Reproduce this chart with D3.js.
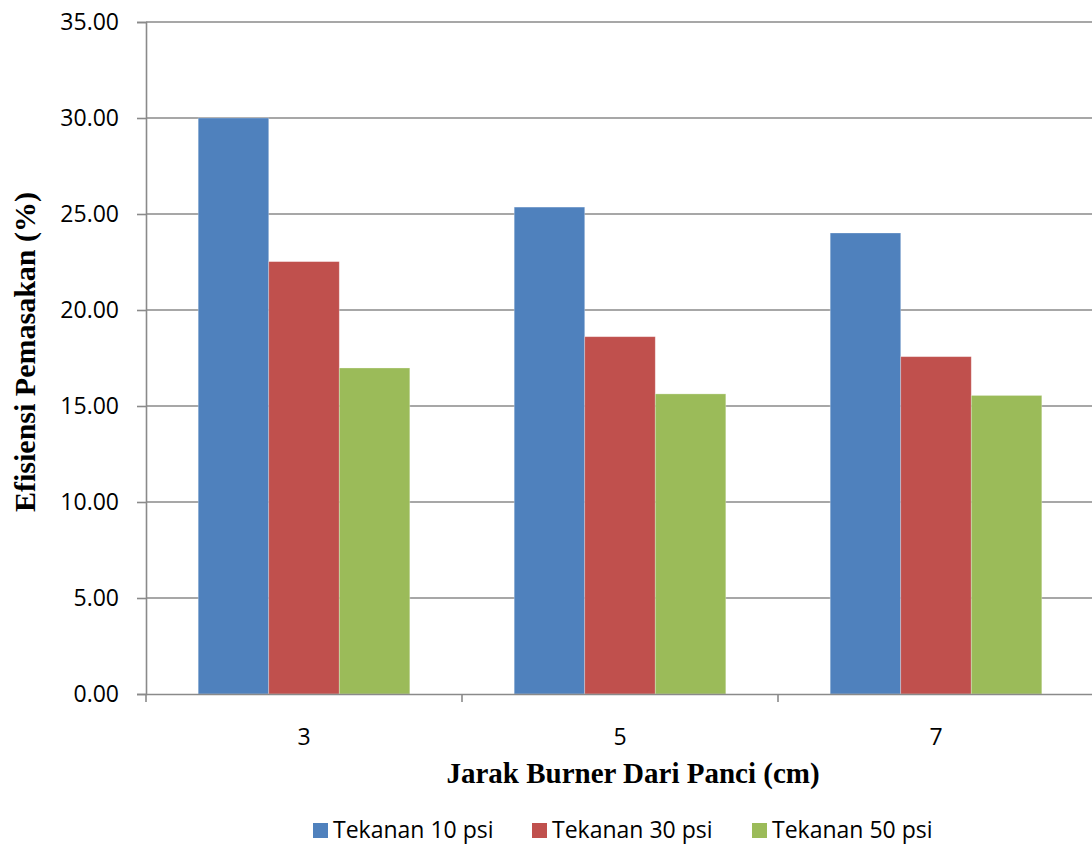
<!DOCTYPE html>
<html>
<head>
<meta charset="utf-8">
<script src="https://cdn.jsdelivr.net/npm/d3@7"></script>
<style>
  html, body { margin: 0; padding: 0; background: #fff; }
  svg { display: block; }
</style>
</head>
<body>
<svg id="chart" width="1092" height="845"></svg>
<script>
// Burner distance from the pan (cm)
const categories = ["3", "5", "7"];
// Series names (gas pressure)
const seriesNames = ["Tekanan 10 psi", "Tekanan 30 psi", "Tekanan 50 psi"];
// Cooking efficiency (%) per distance
const tekanan10 = [30.00, 25.36, 24.01];
const tekanan30 = [22.52, 18.61, 17.57];
const tekanan50 = [16.98, 15.63, 15.55];
const yTicks = [0, 5, 10, 15, 20, 25, 30, 35];

const seriesValues = [tekanan10, tekanan30, tekanan50];
const colors = ["#4F81BD", "#C0504D", "#9BBB59"];

const svg = d3.select("#chart");
const plotLeft = 146, plotRight = 1094, plotTop = 22, plotBottom = 694;
const labelFont = "'Open Sans', sans-serif";
const titleFont = "'Liberation Serif', 'Times New Roman', serif";

const x = d3.scaleBand().domain(categories).range([plotLeft, plotRight]).paddingInner(0).paddingOuter(0);
const x1 = d3.scaleBand().domain(seriesNames).range([0, x.bandwidth()]).paddingOuter(0.74).paddingInner(0);
const y = d3.scaleLinear().domain([0, 35]).range([plotBottom, plotTop]);

// horizontal gridlines
svg.append("g")
  .selectAll("line")
  .data(yTicks.filter(d => d > 0))
  .join("line")
  .attr("x1", plotLeft).attr("x2", plotRight)
  .attr("y1", d => y(d)).attr("y2", d => y(d))
  .attr("stroke", "#8a8a8a").attr("stroke-width", 1.6);

// bars
const groups = svg.append("g")
  .selectAll("g")
  .data(categories)
  .join("g")
  .attr("transform", d => `translate(${x(d)},0)`);

groups.selectAll("rect")
  .data((d, i) => seriesNames.map((s, j) => ({ s, v: seriesValues[j][i], c: colors[j] })))
  .join("rect")
  .attr("x", d => x1(d.s))
  .attr("width", x1.bandwidth())
  .attr("y", d => y(d.v))
  .attr("height", d => y(0) - y(d.v))
  .attr("fill", d => d.c)
  .attr("stroke", "rgba(255,255,255,0.35)")
  .attr("stroke-width", 0.8);

// y axis
const yAxis = svg.append("g")
  .attr("transform", `translate(${plotLeft},0)`)
  .call(d3.axisLeft(y).tickValues(yTicks).tickFormat(d3.format(".2f")).tickSize(9).tickPadding(18));
yAxis.select(".domain").attr("stroke", "#8a8a8a").attr("stroke-width", 1.6);
yAxis.selectAll(".tick line").attr("stroke", "#8a8a8a").attr("stroke-width", 1.6);
yAxis.selectAll("text")
  .attr("font-family", labelFont)
  .attr("font-size", 23)
  .attr("fill", "#000");

// x axis
const xAxis = svg.append("g")
  .attr("transform", `translate(0,${plotBottom})`)
  .call(d3.axisBottom(x).tickSize(0).tickPadding(35));
xAxis.select(".domain").attr("stroke", "#8a8a8a").attr("stroke-width", 1.6);
xAxis.selectAll("text")
  .attr("font-family", labelFont)
  .attr("font-size", 23)
  .attr("fill", "#000");
// category boundary ticks
xAxis.append("g")
  .selectAll("line")
  .data(categories.map(c => x(c)).concat([plotRight]))
  .join("line")
  .attr("x1", d => d).attr("x2", d => d)
  .attr("y1", 0).attr("y2", 8)
  .attr("stroke", "#8a8a8a").attr("stroke-width", 1.6);

// axis titles
svg.append("text")
  .attr("x", 633)
  .attr("y", 783)
  .attr("text-anchor", "middle")
  .attr("font-family", titleFont)
  .attr("font-weight", "bold")
  .attr("font-size", 29)
  .text("Jarak Burner Dari Panci (cm)");

svg.append("text")
  .attr("transform", "translate(35,352) rotate(-90)")
  .attr("text-anchor", "middle")
  .attr("font-family", titleFont)
  .attr("font-weight", "bold")
  .attr("font-size", 30)
  .text("Efisiensi Pemasakan (%)");

// legend
const legendX = [313, 532, 752];
const legend = svg.append("g")
  .selectAll("g")
  .data(seriesNames)
  .join("g")
  .attr("transform", (d, i) => `translate(${legendX[i]},823)`);
legend.append("rect")
  .attr("width", 15).attr("height", 15)
  .attr("fill", (d, i) => colors[i]);
legend.append("text")
  .attr("x", 20).attr("y", 15)
  .attr("font-family", labelFont)
  .attr("font-size", 23)
  .attr("fill", "#000")
  .text(d => d);
</script>
</body>
</html>
